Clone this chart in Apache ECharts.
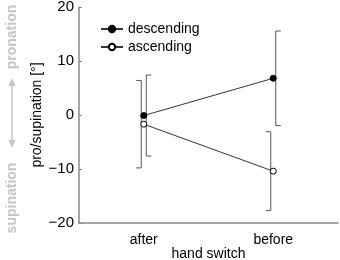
<!DOCTYPE html>
<html><head><meta charset="utf-8">
<script src="https://cdn.jsdelivr.net/npm/echarts@6/dist/echarts.min.js"></script>
<style>html,body{margin:0;padding:0;background:#fff}#c{width:340px;height:260px}</style>
</head><body><div id="c"></div>
<script>
var categories = ['after', 'before'];
var descMean = [-0.1, 6.8];
var descErr = [7.5, 8.75];
var ascMean = [-1.7, -10.4];
var ascErr = [8.1, 7.3];
var yTicks = [-20, -10, 0, 10, 20];

var FONT = 'Liberation Sans, Arial, sans-serif';
var chart = echarts.init(document.getElementById('c'));

function errData(mean, err) {
  return mean.map(function (m, i) { return [i, m, err[i]]; });
}
function errSeries(mean, err, shift, capDir) {
  return {
    type: 'custom',
    silent: true,
    z: 1,
    data: errData(mean, err),
    renderItem: function (params, api) {
      var i = api.value(0), m = api.value(1), e = api.value(2);
      var top = api.coord([i, m + e]);
      var bot = api.coord([i, m - e]);
      var x = top[0] + shift;
      var cap = 5 * capDir;
      var st = { stroke: '#555', lineWidth: 1, fill: null };
      return {
        type: 'group',
        children: [
          { type: 'polyline', shape: { points: [[x + cap, top[1]], [x, top[1]], [x, bot[1]], [x + cap, bot[1]]] }, style: st }
        ]
      };
    }
  };
}

chart.setOption({
  animation: false,
  textStyle: { fontFamily: FONT },
  grid: { left: 79, right: 2, top: 7, bottom: 37, containLabel: false, outerBoundsMode: 'none' },
  legend: {
    orient: 'vertical', left: 95, top: 17, itemWidth: 22, itemHeight: 8, itemGap: 4,
    textStyle: { fontSize: 14, color: '#000', fontFamily: FONT },
    data: ['descending', 'ascending']
  },
  xAxis: {
    type: 'category', data: categories,
    name: 'hand switch', nameLocation: 'middle', nameGap: 31, nameMoveOverlap: false,
    nameTextStyle: { fontSize: 14, color: '#000', fontFamily: FONT, verticalAlign: 'middle' },
    axisLine: { onZero: false, lineStyle: { color: '#888', width: 1.5 } },
    axisTick: { inside: true, alignWithLabel: true, length: 3, lineStyle: { color: '#888' } },
    axisLabel: { fontSize: 14, color: '#000', margin: 10, fontFamily: FONT },
    splitLine: { show: false }
  },
  yAxis: {
    type: 'value', min: -20, max: 20, interval: 10,
    name: 'pro/supination [°]', nameLocation: 'middle', nameGap: 35, nameRotate: 90, nameMoveOverlap: false,
    nameTextStyle: { fontSize: 14, color: '#000', fontFamily: FONT },
    axisLine: { show: true, lineStyle: { color: '#888', width: 1.5 } },
    axisTick: { show: true, inside: true, length: 3, lineStyle: { color: '#888' } },
    axisLabel: { fontSize: 15, color: '#000', margin: 5, fontFamily: FONT,
      formatter: function (v) { return yTicks.indexOf(v) >= 0 ? (v < 0 ? '\u2212' + (-v) : String(v)) : ''; } },
    splitLine: { show: false }
  },
  graphic: [
    { type: 'text', x: 12, y: 37, rotation: Math.PI / 2,
      style: { text: 'pronation', fill: '#c4c4c4', font: 'bold 14px ' + FONT, align: 'center', verticalAlign: 'middle' } },
    { type: 'text', x: 12, y: 198, rotation: Math.PI / 2,
      style: { text: 'supination', fill: '#c4c4c4', font: 'bold 14px ' + FONT, align: 'center', verticalAlign: 'middle' } },
    { type: 'line', shape: { x1: 12, y1: 80, x2: 12, y2: 146 }, style: { stroke: '#c4c4c4', lineWidth: 1.5 } },
    { type: 'polygon', shape: { points: [[12, 78], [8.5, 86], [15.5, 86]] }, style: { fill: '#c4c4c4' } },
    { type: 'polygon', shape: { points: [[12, 148], [8.5, 140], [15.5, 140]] }, style: { fill: '#c4c4c4' } }
  ],
  series: [
    errSeries(descMean, descErr, 2.5, 1),
    errSeries(ascMean, ascErr, -2.5, -1),
    { name: 'descending', type: 'line', data: descMean, z: 3,
      symbol: 'circle', symbolSize: 6,
      lineStyle: { color: '#333', width: 1 },
      itemStyle: { color: '#000', borderColor: '#000', borderWidth: 1 } },
    { name: 'ascending', type: 'line', data: ascMean, z: 3,
      symbol: 'circle', symbolSize: 6,
      lineStyle: { color: '#333', width: 1 },
      itemStyle: { color: '#fff', borderColor: '#000', borderWidth: 1 } }
  ]
});
</script></body></html>
